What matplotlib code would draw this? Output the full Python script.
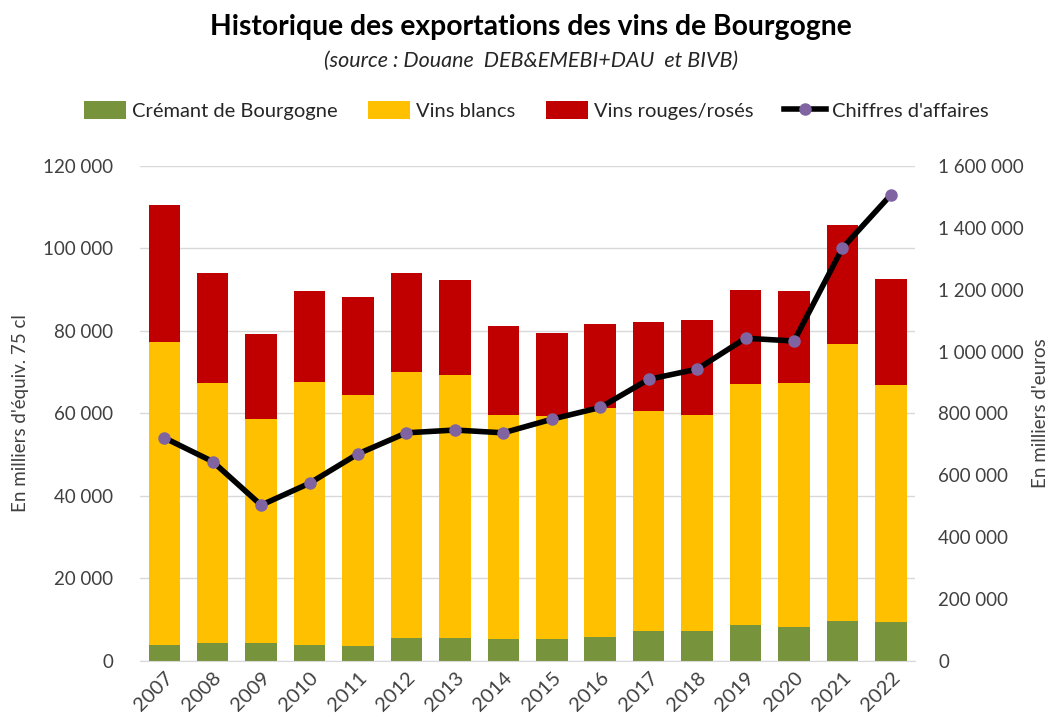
import matplotlib.pyplot as plt
import numpy as np
from matplotlib.ticker import FuncFormatter

# Data (milliers d'équiv. 75 cl / milliers d'euros)
years = ['2007', '2008', '2009', '2010', '2011', '2012', '2013', '2014',
         '2015', '2016', '2017', '2018', '2019', '2020', '2021', '2022']
cremant = [3900, 4200, 4200, 3900, 3600, 5500, 5500, 5200,
           5200, 5800, 7100, 7100, 8700, 8100, 9700, 9400]
blancs = [73400, 63200, 54500, 63800, 60900, 64500, 63800, 54400,
          54100, 55400, 53500, 52500, 58400, 59300, 67100, 57400]
rouges = [33300, 26700, 20600, 21900, 23800, 24100, 23000, 21600,
          20300, 20400, 21600, 23000, 22800, 22200, 28900, 25700]
chiffre = [721000, 644000, 503000, 574000, 669000, 737000, 746000, 737000,
           781000, 819000, 910000, 943000, 1043000, 1034000, 1335000, 1507000]

plt.rcParams['font.family'] = ['Lato', 'DejaVu Sans']

fig = plt.figure(figsize=(10.56, 7.22), dpi=100)
ax = fig.add_axes([0.1326, 0.085, 0.734, 0.685])

x = np.arange(len(years))
w = 0.65
c = np.array(cremant)
b = np.array(blancs)
r = np.array(rouges)

ax.bar(x, c, w, color='#77933c', label='Crémant de Bourgogne', zorder=2)
ax.bar(x, b, w, bottom=c, color='#ffc000', label='Vins blancs', zorder=2)
ax.bar(x, r, w, bottom=c + b, color='#c00000', label='Vins rouges/rosés', zorder=2)

ax.set_xlim(-0.5, len(years) - 0.5)
ax.set_ylim(0, 120000)
ax.set_yticks(range(0, 120001, 20000))
fmt = FuncFormatter(lambda v, p: f'{int(v):,}'.replace(',', ' '))
ax.yaxis.set_major_formatter(fmt)
ax.grid(axis='y', color='#d9d9d9', linewidth=1, zorder=0)
ax.set_axisbelow(True)
for s in ['top', 'right', 'left']:
    ax.spines[s].set_visible(False)
ax.spines['bottom'].set_color('#d9d9d9')
ax.tick_params(axis='both', length=0, labelsize=13.5, colors='#404040')
ax.tick_params(axis='y', pad=19.5)
ax.set_xticks(x)
ax.set_xticklabels(years, rotation=45, ha='right', rotation_mode='anchor', fontsize=14.5)
ax.tick_params(axis='x', pad=6)

ax2 = ax.twinx()
ax2.plot(x, chiffre, color='black', linewidth=4, marker='o', markersize=8,
         markerfacecolor='#8064a2', markeredgecolor='#8064a2', label="Chiffres d'affaires", zorder=3)
ax2.set_ylim(0, 1600000)
ax2.set_yticks(range(0, 1600001, 200000))
ax2.yaxis.set_major_formatter(fmt)
for s in ['top', 'right', 'left', 'bottom']:
    ax2.spines[s].set_visible(False)
ax2.tick_params(axis='y', length=0, labelsize=13.5, colors='#404040', pad=16.5)

# axis titles
fig.text(0.019, 0.428, "En milliers d'équiv. 75 cl", rotation=90, ha='center', va='center',
         fontsize=13.5, color='#404040')
fig.text(0.985, 0.428, "En milliers d'euros", rotation=90, ha='center', va='center',
         fontsize=13.5, color='#404040')

fig.text(0.503, 0.962, 'Historique des exportations des vins de Bourgogne',
         ha='center', va='center', fontsize=20.3, fontweight='bold', color='black')
fig.text(0.503, 0.915, '(source : Douane  DEB&EMEBI+DAU  et BIVB)',
         ha='center', va='center', fontsize=15.5, style='italic', color='#262626')

h1, l1 = ax.get_legend_handles_labels()
h2, l2 = ax2.get_legend_handles_labels()
fig.legend(h1 + h2, l1 + l2, loc='center', bbox_to_anchor=(0.508, 0.847), ncol=4,
           frameon=False, fontsize=14.5, handlelength=2.1, handleheight=1.0,
           columnspacing=1.5, handletextpad=0.3, labelcolor='#262626')

fig.savefig('out.png', dpi=100)
